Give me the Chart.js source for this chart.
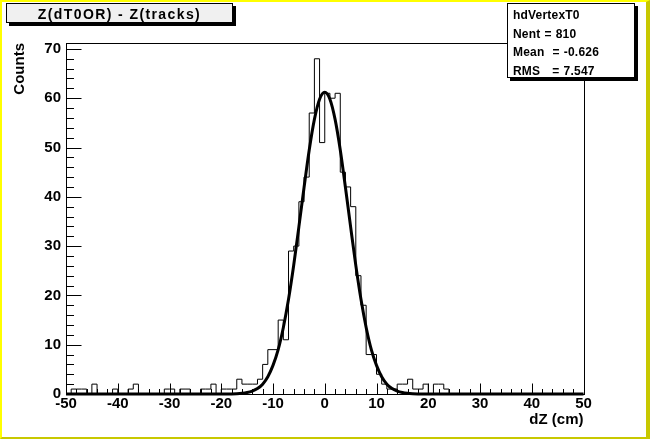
<!DOCTYPE html>
<html>
<head>
<meta charset="utf-8">
<script src="https://cdn.jsdelivr.net/npm/chart.js@4.4.1/dist/chart.umd.min.js"></script>
<style>
html,body{margin:0;padding:0;background:#fff;}
#wrap{position:relative;width:650px;height:439px;overflow:hidden;background:#fff;}
#border{position:absolute;left:0;top:0;width:650px;height:439px;box-sizing:border-box;
  border-left:2px solid #ffff00;border-top:2px solid #ffff00;border-right:4px solid #c8c800;border-bottom:2px solid #c8c800;
  pointer-events:none;z-index:3;}
canvas{position:absolute;left:0;top:0;}
.box{position:absolute;background:#fff;border:1px solid #000;box-shadow:3px 3px 0 #000;box-sizing:border-box;
  font-family:"Liberation Sans",Arial,Helvetica,sans-serif;font-weight:bold;color:#000;z-index:2;}
#title{left:6px;top:3px;width:227px;height:20px;background:#f0f0f0;font-size:14px;letter-spacing:1.4px;
  text-align:center;line-height:18px;padding-top:1px;white-space:pre;}
#stats{left:507px;top:3px;width:128px;height:75px;font-size:12px;letter-spacing:0.2px;word-spacing:0.5px;}
#stats div{position:absolute;left:5px;white-space:pre;line-height:14px;}
</style>
</head>
<body>
<div id="wrap">
  <canvas id="c" width="650" height="439"></canvas>
  <div id="title" class="box">Z(dT0OR) - Z(tracks)</div>
  <div id="stats" class="box">
    <div style="top:4px">hdVertexT0</div>
    <div style="top:22.5px">Nent = 810</div>
    <div style="top:41px">Mean  = -0.626</div>
    <div style="top:59.5px">RMS   = 7.547</div>
  </div>
  <div id="border"></div>
</div>
<script>
// ---- data ----
const binLow = -50;
const binWidth = 1;
const counts = [
  0,1,1,1,0,2,0,0,0,1,
  0,0,1,2,0,0,0,0,0,1,
  1,0,1,1,0,0,1,1,2,0,
  1,1,1,3,2,2,2,3,6,9,
  9,15,11,29,30,39,44,57,68,51,
  61,60,61,45,42,38,24,18,8,8,
  4,2,1,1,2,2,3,1,1,2,
  0,2,2,1,0,0,0,0,0,0,
  0,0,0,0,0,0,0,0,0,0,
  0,0,0,0,0,0,0,0,0,0
];
const fitX = [-50,-20,-18,-17,-16,-15,-14,-13,-12,-11,-10,-9,-8,-7,-6,-5,-4,-3,-2,-1,0,
              1,2,3,4,5,6,7,8,9,10,11,12,13,14,15,16,17,18,20,50];
const fitY = [0,0,0.02,0.06,0.14,0.3,0.6,1.1,2.0,3.5,5.8,9.0,13.5,19.2,26.1,33.9,41.9,49.5,55.7,59.8,61.2,
              59.8,55.7,49.5,41.9,33.9,26.1,19.2,13.5,9.0,5.8,3.5,2.0,1.1,0.6,0.3,0.14,0.06,0.02,0,0];
const xTickValues = [-50,-40,-30,-20,-10,0,10,20,30,40,50];
const yTickValues = [0,10,20,30,40,50,60,70];
const xMinorStep = 2;
const yMinorStep = 2;
const xRange = [-50, 50];
const yRange = [0, 71.2];

// ---- build library structures ----
const histPoints = counts.map((c, i) => ({x: binLow + i * binWidth, y: c}));
histPoints.push({x: binLow + counts.length * binWidth, y: counts[counts.length - 1]});
const fitPoints = fitX.map((x, i) => ({x: x, y: fitY[i]}));

const FONT = '"Liberation Sans", Arial, Helvetica, sans-serif';

const rootAxes = {
  id: 'rootAxes',
  afterDatasetsDraw(chart) {
    const {ctx, chartArea: a, scales: {x, y}} = chart;
    ctx.save();
    ctx.strokeStyle = '#000';
    ctx.lineWidth = 1;
    const L = Math.round(a.left) + 0.5, T = Math.round(a.top) + 0.5;
    const R = Math.round(a.right) + 0.5, B = Math.round(a.bottom) + 0.5;
    ctx.strokeRect(L, T, R - L, B - T);
    ctx.beginPath();
    for (let v = yRange[0]; v <= yTickValues[yTickValues.length - 1] + 1e-9; v += yMinorStep) {
      const p = Math.round(y.getPixelForValue(v)) + 0.5;
      const len = yTickValues.includes(v) ? 15 : 7.5;
      ctx.moveTo(L, p); ctx.lineTo(L + len, p);
    }
    for (let v = xRange[0]; v <= xRange[1] + 1e-9; v += xMinorStep) {
      const p = Math.round(x.getPixelForValue(v)) + 0.5;
      const len = xTickValues.includes(v) ? 11 : 5.5;
      ctx.moveTo(p, B); ctx.lineTo(p, B - len);
    }
    ctx.stroke();
    ctx.restore();
  }
};

new Chart(document.getElementById('c'), {
  type: 'line',
  data: {
    datasets: [
      {
        label: 'hdVertexT0',
        data: histPoints,
        stepped: 'before',
        borderColor: '#000',
        borderWidth: 1,
        pointRadius: 0,
        fill: false,
        order: 2
      },
      {
        label: 'gaus fit',
        data: fitPoints,
        borderColor: '#000',
        borderWidth: 3,
        pointRadius: 0,
        fill: false,
        cubicInterpolationMode: 'monotone',
        clip: false,
        order: 1
      }
    ]
  },
  options: {
    responsive: false,
    animation: false,
    layout: {padding: {left: 0, top: 43, right: 66.5, bottom: 0}},
    plugins: {legend: {display: false}, tooltip: {enabled: false}},
    scales: {
      x: {
        type: 'linear',
        min: xRange[0], max: xRange[1],
        grid: {display: false, drawTicks: false},
        border: {display: false},
        afterBuildTicks: s => { s.ticks = xTickValues.map(v => ({value: v})); },
        afterFit: s => { s.height = 45; },
        ticks: {
          color: '#000', padding: 1, maxRotation: 0, autoSkip: false,
          font: {family: FONT, size: 15, weight: 'bold'}
        },
        title: {
          display: true, text: 'dZ (cm)', align: 'end', color: '#000',
          font: {family: FONT, size: 15, weight: 'bold'},
          padding: {top: 0, bottom: 10}
        }
      },
      y: {
        min: yRange[0], max: yRange[1],
        grid: {display: false, drawTicks: false},
        border: {display: false},
        afterBuildTicks: s => { s.ticks = yTickValues.map(v => ({value: v})); },
        afterFit: s => { s.width = 66; },
        ticks: {
          color: '#000', padding: 5, autoSkip: false,
          font: {family: FONT, size: 15, weight: 'bold'}
        },
        title: {
          display: true, text: 'Counts', align: 'end', color: '#000',
          font: {family: FONT, size: 15, weight: 'bold'},
          padding: {top: 11, bottom: 0}
        }
      }
    }
  },
  plugins: [rootAxes]
});
</script>
</body>
</html>
